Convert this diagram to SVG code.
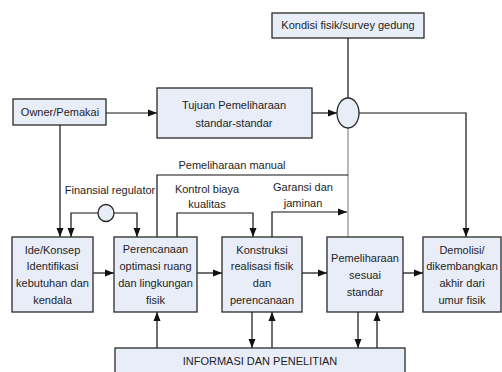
<svg xmlns="http://www.w3.org/2000/svg" width="502" height="372" viewBox="0 0 502 372">
<style>
.box{fill:#e8edf8;stroke:#2a2a2a;stroke-width:1.3}
.t{font-family:"Liberation Sans",Arial,sans-serif;font-size:11px;fill:#1e1e1e;text-anchor:middle}
.l{fill:none;stroke:#111;stroke-width:1.2}
.g{fill:none;stroke:#8a8a8a;stroke-width:1.2}
</style>
<defs>
<marker id="a" markerUnits="userSpaceOnUse" markerWidth="10" markerHeight="8" refX="9" refY="4" orient="auto">
<path d="M0,0.5 L9,4 L0,7.5 z" fill="#111"/>
</marker>
</defs>
<rect width="502" height="372" fill="#fff"/>
<g id="connectors">
<path class="l" d="M348,38 V98"/>
<path class="l" d="M106,113 H157" marker-end="url(#a)"/>
<path class="l" d="M312,113 H337" marker-end="url(#a)"/>
<path class="l" d="M359,113 H466 V237" marker-end="url(#a)"/>
<path class="g" d="M348,128 V237"/>
<path class="l" d="M60,125 V237" marker-end="url(#a)"/>
<path class="l" d="M98,213 H71 V237" marker-end="url(#a)"/>
<path class="l" d="M114,213 H137 V237" marker-end="url(#a)"/>
<path class="l" d="M157,237 V175 H348"/>
<path class="l" d="M177,237 V213 H253 V237" marker-end="url(#a)"/>
<path class="l" d="M272,237 V212 H347" marker-end="url(#a)"/>
<path class="l" d="M93,273 H114" marker-end="url(#a)"/>
<path class="l" d="M197,273 H222" marker-end="url(#a)"/>
<path class="l" d="M302,273 H327" marker-end="url(#a)"/>
<path class="l" d="M403,273 H423" marker-end="url(#a)"/>
<path class="l" d="M157,348 V312" marker-end="url(#a)"/>
<path class="l" d="M252,312 V348" marker-end="url(#a)"/>
<path class="l" d="M272,348 V312" marker-end="url(#a)"/>
<path class="l" d="M358,312 V348" marker-end="url(#a)"/>
<path class="l" d="M377,348 V312" marker-end="url(#a)"/>
<text class="t" x="110" y="194">Finansial regulator</text>
<text class="t" x="232" y="169">Pemeliharaan manual</text>
<text class="t" x="207" y="193">Kontrol biaya</text>
<text class="t" x="207" y="208">kualitas</text>
<text class="t" x="303" y="191">Garansi dan</text>
<text class="t" x="303" y="207">jaminan</text>
</g>
<g id="kondisi">
<rect class="box" x="272" y="13" width="152" height="25"/>
<text class="t" x="348" y="29">Kondisi fisik/survey gedung</text>
</g>
<g id="owner">
<rect class="box" x="13" y="99" width="93" height="26"/>
<text class="t" x="60" y="116">Owner/Pemakai</text>
</g>
<g id="tujuan">
<rect class="box" x="157" y="88" width="155" height="50"/>
<text class="t" x="234" y="109">Tujuan Pemeliharaan</text>
<text class="t" x="234" y="127">standar-standar</text>
</g>
<g id="sum1">
<ellipse class="box" cx="348" cy="113" rx="11" ry="15"/>
</g>
<g id="sum2">
<ellipse class="box" cx="106" cy="213" rx="8" ry="8.5"/>
</g>
<g id="ide">
<rect class="box" x="12" y="237" width="81" height="75"/>
<text class="t" x="52.5" y="254">Ide/Konsep</text>
<text class="t" x="52.5" y="270">Identifikasi</text>
<text class="t" x="52.5" y="287">kebutuhan dan</text>
<text class="t" x="52.5" y="304">kendala</text>
</g>
<g id="perencanaan">
<rect class="box" x="114" y="237" width="83" height="75"/>
<text class="t" x="155.5" y="253">Perencanaan</text>
<text class="t" x="155.5" y="270">optimasi ruang</text>
<text class="t" x="155.5" y="287">dan lingkungan</text>
<text class="t" x="155.5" y="304">fisik</text>
</g>
<g id="konstruksi">
<rect class="box" x="222" y="237" width="80" height="75"/>
<text class="t" x="262" y="254">Konstruksi</text>
<text class="t" x="262" y="270">realisasi fisik</text>
<text class="t" x="262" y="287">dan</text>
<text class="t" x="262" y="304">perencanaan</text>
</g>
<g id="pemeliharaan">
<rect class="box" x="327" y="237" width="76" height="75"/>
<text class="t" x="365" y="262">Pemeliharaan</text>
<text class="t" x="365" y="279">sesuai</text>
<text class="t" x="365" y="296">standar</text>
</g>
<g id="demolisi">
<rect class="box" x="423" y="237" width="78" height="75"/>
<text class="t" x="462" y="254">Demolisi/</text>
<text class="t" x="462" y="270">dikembangkan</text>
<text class="t" x="462" y="287">akhir dari</text>
<text class="t" x="462" y="304">umur fisik</text>
</g>
<g id="informasi">
<rect class="box" x="115" y="348" width="290" height="30"/>
<text class="t" x="260" y="365">INFORMASI DAN PENELITIAN</text>
</g>
</svg>
